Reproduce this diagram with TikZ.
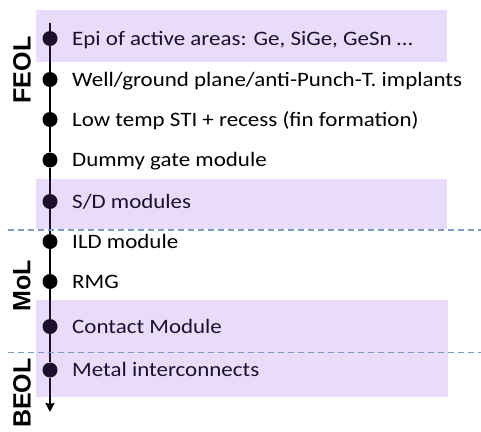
\documentclass[tikz,border=0pt]{standalone}
\usepackage{fontspec}
\setmainfont{Carlito}
\newfontfamily\sidefont{Liberation Sans}
\usetikzlibrary{arrows.meta}
\definecolor{boxviolet}{RGB}{140,80,230}
\definecolor{dashblue}{RGB}{120,156,200}
\tikzset{
  dot/.style={circle,fill=black,inner sep=0pt,minimum size=15pt},
  steptext/.style={anchor=base west,inner sep=0pt,xscale=1.12,font=\fontsize{20.5}{24}\selectfont,text=black},
  sidelabel/.style={rotate=90,inner sep=0pt,font=\sidefont\bfseries\fontsize{25}{30}\selectfont},
  spine/.style={line width=2.7pt,black},
  band/.style={fill=boxviolet,fill opacity=0.2,draw=none},
  sep/.style={dashblue,line width=1.2pt,dash pattern=on 6pt off 4pt}
}
\begin{document}
\begin{tikzpicture}[x=1pt,y=-1pt]
\useasboundingbox (0,0) rectangle (481,431);
% spine and dots
\coordinate (top) at (50,23);
\coordinate (bottom) at (50,412);
\foreach \n/\y in {1/38.5,2/79.5,3/119.5,4/160,5/201.5,6/241.5,7/281.5,8/326.5,9/370}{
  \node[dot] (d\n) at (50,\y) {};
}
\draw[spine] (top) -- (d1);
\foreach \a/\b in {1/2,2/3,3/4,4/5,5/6,6/7,7/8,8/9}{
  \draw[spine] (d\a) -- (d\b);
}
\draw[spine,-{Stealth[length=9pt,width=9pt,inset=1pt]}] (d9) -- (bottom);
% texts
\node[steptext] (t1) at (72,45.2) {Epi of active areas: Ge, SiGe, GeSn …};
\node[steptext] (t2) at (72,86.2) {Well/ground plane/anti-Punch-T. implants};
\node[steptext] (t3) at (72,126.2) {Low temp STI + recess (fin formation)};
\node[steptext] (t4) at (72,166.7) {Dummy gate module};
\node[steptext] (t5) at (72,208.2) {S/D modules};
\node[steptext] (t6) at (72,248.2) {ILD module};
\node[steptext] (t7) at (72,288.2) {RMG};
\node[steptext] (t8) at (72,333.2) {Contact Module};
\node[steptext] (t9) at (72,376.7) {Metal interconnects};
% side labels
\node[sidelabel] (feol) at (22,70) {FEOL};
\node[sidelabel] (mol) at (22,286) {MoL};
\node[sidelabel] (beol) at (22,393) {BEOL};
% highlight bands
\fill[band] (36,10) rectangle (447,62);
\fill[band] (36,179) rectangle (447,229);
\fill[band] (36,300) rectangle (448,397);
% separators
\coordinate (s1a) at (8,230); \coordinate (s1b) at (481,230);
\coordinate (s2a) at (8,352.5); \coordinate (s2b) at (481,352.5);
\draw[sep] (s1a) -- (s1b);
\draw[sep] (s2a) -- (s2b);
\end{tikzpicture}
\end{document}
